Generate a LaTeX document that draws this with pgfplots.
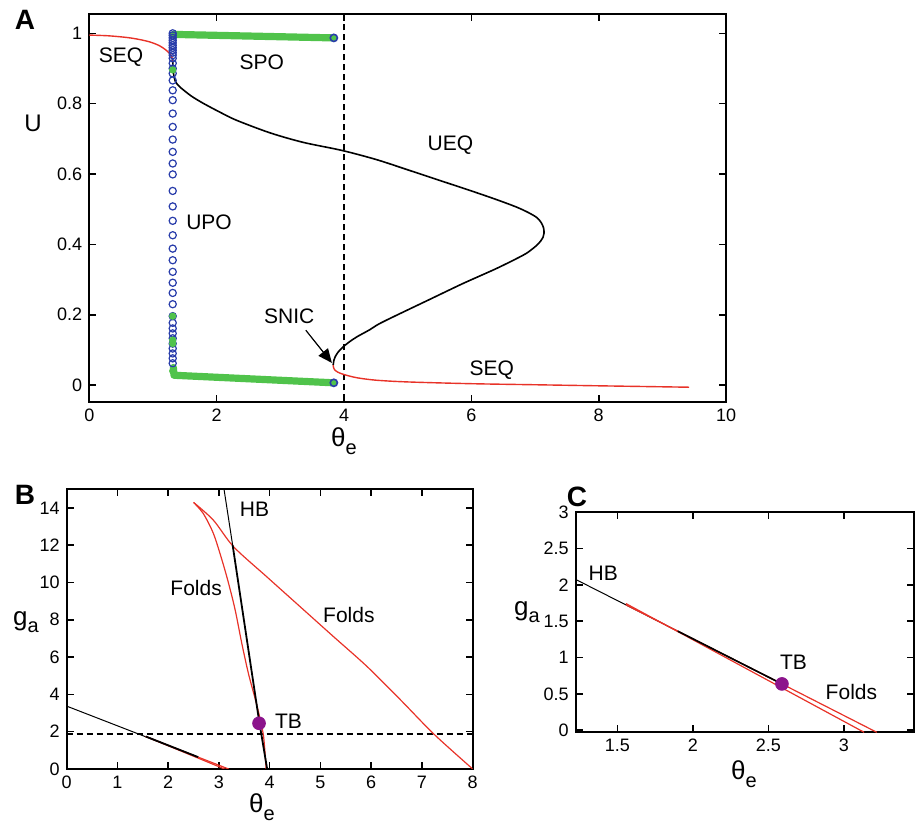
\documentclass[border=0pt]{standalone}
\usepackage{fontspec}
\setmainfont{Liberation Sans}
\usepackage{pgfplots}
\pgfplotsset{compat=1.18}
\usetikzlibrary{arrows.meta}
\definecolor{eqred}{RGB}{232,50,40}
\definecolor{pogreen}{RGB}{80,195,75}
\definecolor{poblue}{RGB}{40,60,170}
\definecolor{tbpurple}{RGB}{140,20,140}
\newcommand{\thetae}{θ\raisebox{-0.55ex}{\fontsize{10}{10}\selectfont e}}
\newcommand{\ga}{g\raisebox{-0.55ex}{\fontsize{10}{10}\selectfont a}}
\pgfplotsset{myaxis/.style={scale only axis, anchor=south west,
  axis line style={line width=1.1pt}, tick align=inside, major tick length=3.5pt,
  every tick/.style={black, line width=0.8pt},
  /pgf/number format/assume math mode=true,
  tick label style={font=\fontsize{9}{10}\selectfont},
  clip=true}}
\begin{document}
\begin{tikzpicture}
\useasboundingbox (0,0) rectangle (458.5pt,412pt);
% ---------------- Panel A ----------------
\begin{axis}[myaxis, at={(44.65pt,211pt)}, width=318.4pt, height=194pt,
  xmin=0, xmax=10, ymin=-0.048, ymax=1.055,
  xtick={0,2,4,6,8,10}, ytick={0,0.2,0.4,0.6,0.8,1}]
\addplot[black, densely dashed, line width=0.6pt] coordinates {(4,-0.1) (4,1.1)};
% stable equilibria (upper)
\addplot[eqred, line width=0.7pt, smooth] coordinates {(0,0.995) (0.3,0.993) (0.6,0.988) (0.8,0.982) (0.96,0.975) (1.1,0.965) (1.2,0.953) (1.27,0.941) (1.30,0.93) (1.31,0.922)};
% unstable equilibria
\addplot[black, line width=0.8pt, smooth] coordinates {(1.31,0.922) (1.315,0.905) (1.322,0.886) (1.35,0.864) (1.42,0.848) (1.6,0.822) (1.79,0.801) (2.05,0.776) (2.31,0.753) (2.84,0.717) (3.36,0.690) (3.97,0.667) (4.51,0.641) (5.0,0.612) (5.5,0.582) (6.0,0.552) (6.40,0.527) (6.71,0.506) (6.9,0.49) (7.03,0.476) (7.10,0.461) (7.135,0.446) (7.14,0.431) (7.125,0.42) (7.09,0.41) (7.03,0.398) (6.95,0.386) (6.82,0.370) (6.40,0.332) (5.87,0.289) (5.35,0.244) (4.83,0.199) (4.55,0.174) (4.4,0.157) (4.2,0.137) (4.07,0.121) (3.97,0.106) (3.9,0.092) (3.86,0.08) (3.84,0.07) (3.83,0.057)};
% stable equilibria (lower)
\addplot[eqred, line width=0.7pt, smooth] coordinates {(3.83,0.057) (3.835,0.05) (3.85,0.044) (3.9,0.037) (4.0,0.03) (4.2,0.021) (4.5,0.014) (5.0,0.009) (6.0,0.004) (7.0,0.001) (8.0,-0.002) (9.42,-0.006)};
% unstable periodic orbits
\addplot[only marks, mark=o, mark size=1.8pt, poblue, mark options={line width=0.6pt}] coordinates {
(1.31,0.062) (1.31,0.076) (1.31,0.090) (1.31,0.104) (1.31,0.118) (1.31,0.133) (1.31,0.147) (1.31,0.161) (1.31,0.177) (1.31,0.196) (1.31,0.230) (1.31,0.262) (1.31,0.291) (1.31,0.322) (1.31,0.355) (1.31,0.388) (1.31,0.426) (1.31,0.467) (1.31,0.508) (1.31,0.552) (1.31,0.599) (1.31,0.630) (1.31,0.663) (1.31,0.698) (1.31,0.734) (1.31,0.772) (1.31,0.810) (1.31,0.838) (1.31,0.866) (1.31,0.886) (1.31,0.900) (1.31,0.915) (1.31,0.929) (1.31,0.938) (1.31,0.945) (1.31,0.952) (1.31,0.959) (1.31,0.966) (1.31,0.973) (1.31,0.980) (1.31,0.987) (1.31,0.994) (1.31,1.0)};
% stable periodic orbits
\addplot[pogreen, line width=3.6pt, line cap=round, line join=round] coordinates {(1.32,0.997) (3.84,0.987)};
\addplot[pogreen, line width=3.6pt, line cap=round, line join=round] coordinates {(1.32,0.05) (1.33,0.028) (3.84,0.0065)};
\addplot[only marks, mark=*, mark size=1.6pt, pogreen] coordinates {(1.31,0.896) (1.31,0.196) (1.31,0.128) (1.31,0.118) (1.31,0.04)};
\addplot[only marks, mark=*, mark size=1.8pt, draw=poblue, fill=pogreen, mark options={line width=0.8pt}] coordinates {(3.84,0.987) (3.84,0.0065)};
\draw[line width=0.6pt, -{Triangle[length=7pt, width=6pt]}] (axis cs:3.4,0.156) -- (axis cs:3.81,0.063);
\node[font=\fontsize{10.5}{12}\selectfont] at (axis cs:0.5,0.933) {SEQ};
\node[font=\fontsize{10.5}{12}\selectfont] at (axis cs:2.71,0.918) {SPO};
\node[font=\fontsize{10.5}{12}\selectfont] at (axis cs:5.67,0.682) {UEQ};
\node[font=\fontsize{10.5}{12}\selectfont] at (axis cs:1.88,0.463) {UPO};
\node[font=\fontsize{10.5}{12}\selectfont] at (axis cs:3.14,0.196) {SNIC};
\node[font=\fontsize{10.5}{12}\selectfont] at (axis cs:6.32,0.043) {SEQ};
\end{axis}
\node[font=\fontsize{14}{16}\selectfont\bfseries] at (12.5pt,402pt) {A};
\node[font=\fontsize{12}{14}\selectfont] at (16.5pt,350.5pt) {U};
\node[font=\fontsize{13}{15}\selectfont] at (172pt,191.5pt) {\thetae};
% ---------------- Panel B ----------------
\begin{axis}[myaxis, at={(33.35pt,27.5pt)}, width=203pt, height=139.9pt,
  xmin=0, xmax=8, ymin=0, ymax=15,
  xtick={0,1,...,8}, ytick={0,2,...,14}]
\addplot[black, densely dashed, line width=0.6pt] coordinates {(0,1.88) (8,1.88)};
\addplot[black, line width=0.5pt] coordinates {(0,3.37) (2.59,0.636)};
\addplot[eqred, line width=0.6pt] coordinates {(1.557,1.743) (3.11,0)};
\addplot[eqred, line width=0.6pt] coordinates {(1.557,1.743) (2.59,0.636) (3.19,0)};
\addplot[black, line width=0.9pt] coordinates {(1.557,1.743) (2.59,0.636)};
\addplot[eqred, line width=0.6pt, smooth] coordinates {(2.50,14.29) (2.69,13.70) (2.89,12.63) (3.06,11.2) (3.19,9.95) (3.32,8.52) (3.45,6.74) (3.58,5.13) (3.72,3.70) (3.80,2.81) (3.88,1.74) (3.93,0)};
\addplot[eqred, line width=0.6pt, smooth] coordinates {(2.50,14.29) (2.89,13.34) (3.29,11.91) (3.94,10.31) (4.60,8.70) (5.26,7.09) (5.92,5.49) (6.58,3.70) (7.24,1.86) (8.0,0)};
\addplot[black, line width=0.5pt] coordinates {(3.10,15) (3.27,12)};
\addplot[black, line width=0.9pt] coordinates {(3.27,12) (3.79,2.6) (3.95,0)};
\addplot[only marks, mark=*, mark size=3.2pt, tbpurple] coordinates {(3.79,2.45)};
\node[font=\fontsize{10.5}{12}\selectfont] at (axis cs:3.7,13.9) {HB};
\node[font=\fontsize{10.5}{12}\selectfont] at (axis cs:2.55,9.68) {Folds};
\node[font=\fontsize{10.5}{12}\selectfont] at (axis cs:5.56,8.25) {Folds};
\node[font=\fontsize{10.5}{12}\selectfont] at (axis cs:4.37,2.54) {TB};
\end{axis}
\node[font=\fontsize{14}{16}\selectfont\bfseries] at (12.5pt,164.5pt) {B};
\node[font=\fontsize{13}{15}\selectfont] at (13pt,101pt) {\ga};
\node[font=\fontsize{13}{15}\selectfont] at (131pt,8.5pt) {\thetae};
% ---------------- Panel C ----------------
\begin{axis}[myaxis, at={(287.85pt,45.85pt)}, width=169.2pt, height=110pt,
  xmin=1.2245, xmax=3.465, ymin=-0.03, ymax=3.0,
  xtick={1.5,2,2.5,3}, ytick={0,0.5,...,3}]
\addplot[black, line width=0.5pt] coordinates {(1.2245,2.075) (2.59,0.636)};
\addplot[eqred, line width=0.6pt] coordinates {(1.557,1.743) (3.134,-0.03)};
\addplot[eqred, line width=0.6pt] coordinates {(1.557,1.725) (2.59,0.636) (3.218,-0.03)};
\addplot[black, line width=0.8pt] coordinates {(1.9,1.363) (2.59,0.636)};
\addplot[only marks, mark=*, mark size=3.2pt, tbpurple] coordinates {(2.59,0.636)};
\node[font=\fontsize{10.5}{12}\selectfont] at (axis cs:1.407,2.16) {HB};
\node[font=\fontsize{10.5}{12}\selectfont] at (axis cs:2.666,0.93) {TB};
\node[font=\fontsize{10.5}{12}\selectfont] at (axis cs:3.05,0.53) {Folds};
\end{axis}
\node[font=\fontsize{14}{16}\selectfont\bfseries] at (288.5pt,163.5pt) {C};
\node[font=\fontsize{13}{15}\selectfont] at (263.5pt,106pt) {\ga};
\node[font=\fontsize{13}{15}\selectfont] at (372pt,25pt) {\thetae};
\end{tikzpicture}
\end{document}
